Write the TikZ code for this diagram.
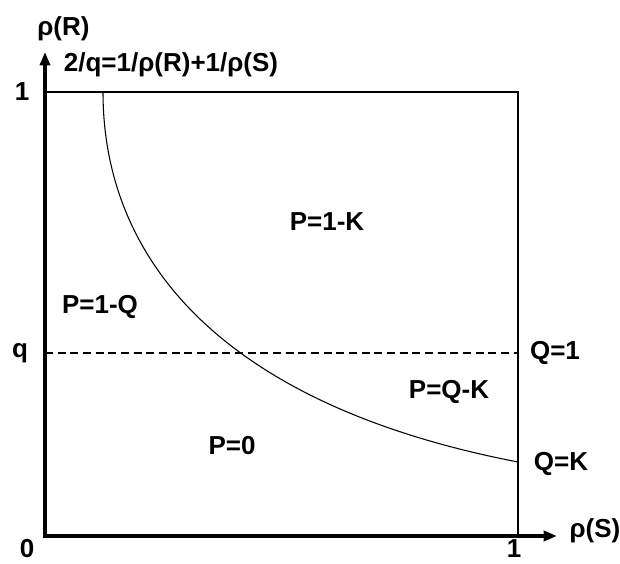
\documentclass[tikz,border=0pt]{standalone}
\usepackage{fontspec}
\setmainfont{Liberation Sans}
\usetikzlibrary{arrows.meta}
\begin{document}
\begin{tikzpicture}[x=0.75pt,y=-0.75pt,
  lbl/.style={font=\bfseries\fontsize{19.5}{22}\selectfont, inner sep=0pt},
  axis/.style={line width=2.6pt, -{Triangle[length=10pt,width=7.5pt]}},
  thin/.style={line width=0.8pt},
  dashline/.style={line width=1.5pt, dash pattern=on 6pt off 3.5pt}]
\useasboundingbox (0,0) rectangle (620,563);
\coordinate (O) at (45,536);
\coordinate (ytip) at (45,52);
\coordinate (xtip) at (557,536);
\coordinate (TL) at (45,92);
\coordinate (TR) at (518,92);
\coordinate (BR) at (518,536);
\coordinate (QL) at (45,353);
\coordinate (QR) at (518,353);
\coordinate (cs) at (103,92);
\coordinate (ce) at (518,462);
\draw[thin] (TL) -- (TR) -- (BR);
\draw[dashline] (QL) -- (QR);
\draw[thin] (cs) .. controls (103,257) and (218,404) .. (ce);
\draw[axis] ([yshift=-1.3pt]O) -- (ytip);
\draw[axis] ([xshift=-1.3pt]O) -- (xtip);
\node[lbl, anchor=west] (rhoR) at (37,29) {ρ(R)};
\node[lbl] (eq) at (171,65) {2/q=1/ρ(R)+1/ρ(S)};
\node[lbl] (one) at (22,92) {1};
\node[lbl] (p1k) at (327,222) {P=1-K};
\node[lbl] (p1q) at (100,307) {P=1-Q};
\node[lbl] (q) at (20,353) {q};
\node[lbl] (q1) at (555,353) {Q=1};
\node[lbl] (pqk) at (449,392) {P=Q-K};
\node[lbl] (p0) at (232,446) {P=0};
\node[lbl] (qk) at (561,464) {Q=K};
\node[lbl] (rhoS) at (595,531) {ρ(S)};
\node[lbl] (zero) at (27,549) {0};
\node[lbl] (oneb) at (514,549) {1};
\end{tikzpicture}
\end{document}
